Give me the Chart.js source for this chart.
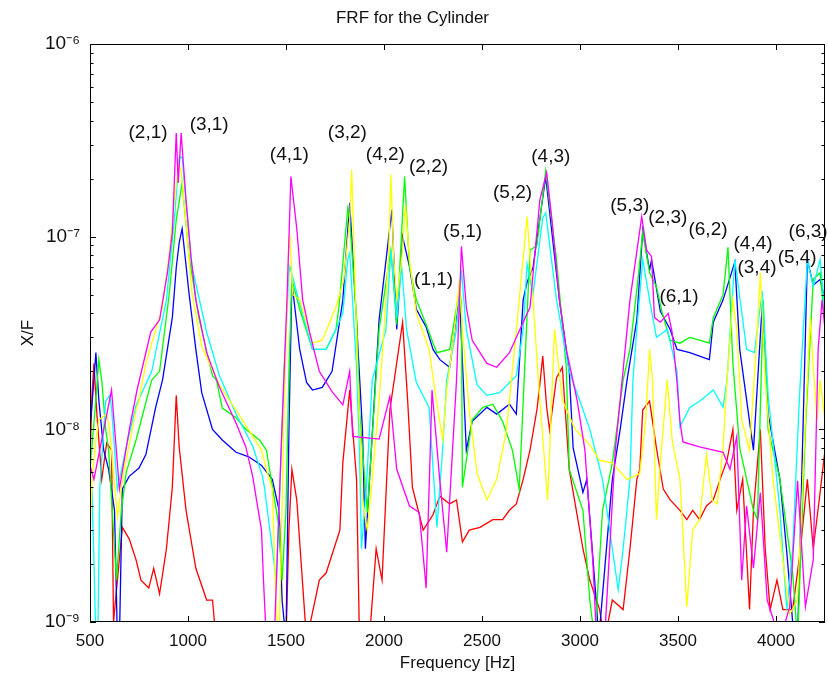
<!DOCTYPE html>
<html>
<head>
<meta charset="utf-8">
<title>FRF for the Cylinder</title>
<script src="https://cdn.jsdelivr.net/npm/chart.js@4.4.1/dist/chart.umd.min.js"></script>
<style>
  html, body { margin: 0; padding: 0; background: #fff; }
  canvas { display: block; }
</style>
</head>
<body>
<canvas id="frf" width="828" height="681"></canvas>
<script>
// tick labels
const xTicks = [500, 1000, 1500, 2000, 2500, 3000, 3500, 4000];
const yTicks = [1e-9, 1e-8, 1e-7, 1e-6];

// mode labels (m,n) and where they sit
const modeNames = ['(2,1)', '(3,1)', '(4,1)', '(3,2)', '(4,2)', '(2,2)', '(5,1)', '(1,1)', '(5,2)', '(4,3)',
                   '(5,3)', '(2,3)', '(6,2)', '(6,1)', '(4,4)', '(3,4)', '(5,4)', '(6,3)'];
const modeHz = [796, 1108, 1517, 1813, 2007, 2227, 2401, 2253, 2656, 2851,
                3254, 3448, 3653, 3505, 3883, 3903, 4108, 4164];
const modeXF = [3.45e-7, 3.8e-7, 2.65e-7, 3.45e-7, 2.65e-7, 2.3e-7, 1.06e-7, 5.96e-8, 1.69e-7, 2.59e-7,
                1.44e-7, 1.26e-7, 1.08e-7, 4.87e-8, 9.2e-8, 6.9e-8, 7.8e-8, 1.06e-7];

// measured responses [Hz, X/F]
const magenta = [[500,6.5e-9],[520,5.5e-9],[610,1.6e-8],[650,4.9e-9],[700,9.9e-9],[740,1.6e-8],[810,3.2e-8],
  [855,3.7e-8],[895,6.5e-8],[920,1.05e-7],[940,3.45e-7],[950,1.9e-7],[965,3.45e-7],[990,1.55e-7],[1015,7.9e-8],
  [1040,4.7e-8],[1095,2.5e-8],[1160,1.66e-8],[1245,1.08e-8],[1295,8.1e-9],[1330,5.7e-9],[1375,3.0e-9],
  [1385,1.65e-9],[1400,8e-10],[1440,8e-10],[1475,7.8e-9],[1505,4.7e-8],[1525,2.05e-7],[1555,1.1e-7],
  [1585,4.7e-8],[1620,3.2e-8],[1670,2.0e-8],[1735,1.57e-8],[1790,1.34e-8],[1825,2.0e-8],[1840,9.2e-9],
  [1975,8.9e-9],[2030,1.48e-8],[2065,6.2e-9],[2130,4.0e-9],[2180,3.7e-9],[2215,1.5e-9],[2245,1.6e-8],
  [2285,5.4e-9],[2320,2.3e-9],[2370,1.8e-8],[2395,8.9e-8],[2420,4.3e-8],[2450,2.9e-8],[2525,2.2e-8],
  [2575,2.1e-8],[2640,2.5e-8],[2710,3.6e-8],[2745,4.3e-8],[2795,1.55e-7],[2830,2.15e-7],[2855,1.27e-7],
  [2895,4.7e-8],[2930,2.6e-8],[2985,1.42e-8],[3025,7.8e-9],[3065,2.1e-9],[3085,8e-10],[3125,8e-10],
  [3180,7.8e-9],[3255,4.7e-8],[3315,1.27e-7],[3340,8.5e-8],[3365,7.9e-8],[3380,3.8e-8],[3410,3.6e-8],
  [3450,4.0e-8],[3470,3.2e-8],[3495,1.75e-8],[3510,1.1e-8],[3525,8.6e-9],[3610,8.1e-9],[3730,7.6e-9],
  [3765,6.2e-9],[3800,9.2e-9],[3825,1.65e-9],[3850,4.0e-9],[3885,1.9e-9],[3920,4.7e-9],[3955,1.3e-9],
  [4020,8e-10],[4070,1.2e-9],[4110,5.4e-9],[4150,1.2e-9],[4190,2.1e-9],[4215,2.6e-8],[4235,4.7e-8],[4250,3.3e-8]];

const yellow = [[500,2.7e-9],[510,5.5e-9],[530,8.8e-9],[545,1.12e-8],[585,1.2e-8],[600,9.9e-9],[640,3.5e-9],
  [665,5.5e-9],[735,1.26e-8],[750,1.42e-8],[785,2.2e-8],[870,4.3e-8],[905,8.2e-8],[940,1.9e-7],[955,2.35e-7],
  [965,2.2e-7],[990,1.18e-7],[1020,5.1e-8],[1070,2.7e-8],[1160,1.7e-8],[1245,1.26e-8],[1310,9.9e-9],
  [1375,7.8e-9],[1400,6.2e-9],[1430,4.9e-9],[1450,1.16e-9],[1465,8e-10],[1490,1.2e-8],[1515,9.6e-8],
  [1520,1.0e-7],[1535,5.0e-8],[1570,4.7e-8],[1635,2.8e-8],[1685,2.9e-8],[1755,4.3e-8],[1795,6.0e-8],
  [1825,1.22e-7],[1835,2.22e-7],[1850,7.0e-8],[1865,2.1e-8],[1875,1.12e-8],[1890,4.3e-9],[1915,3.0e-9],
  [1940,5.5e-9],[1975,1.42e-8],[2000,3.3e-8],[2025,8.5e-8],[2035,2.1e-7],[2050,7.6e-8],[2065,4.7e-8],
  [2090,7.6e-8],[2110,1.45e-7],[2130,7.6e-8],[2165,4.0e-8],[2230,2.6e-8],[2270,1.35e-8],[2300,8.8e-9],
  [2320,1.6e-8],[2360,3.3e-8],[2385,6.0e-8],[2400,3.3e-8],[2435,1.26e-8],[2475,5.9e-9],[2525,4.3e-9],
  [2575,5.5e-9],[2625,9.9e-9],[2650,1.8e-8],[2690,4.7e-8],[2730,1.27e-7],[2760,4.7e-8],[2795,1.42e-8],
  [2835,4.3e-9],[2870,3.3e-8],[2910,1.42e-8],[2975,1.0e-8],[3050,8.3e-9],[3100,6.9e-9],[3165,6.7e-9],
  [3240,5.5e-9],[3305,5.9e-9],[3335,1.12e-8],[3355,2.6e-8],[3370,1.8e-8],[3390,3.4e-9],[3415,7.8e-9],
  [3445,1.8e-8],[3470,8.8e-9],[3510,5.5e-9],[3545,1.2e-9],[3575,3.0e-9],[3610,3.4e-9],[3645,7.4e-9],
  [3675,4.3e-9],[3700,4.1e-9],[3730,8.1e-9],[3750,1.8e-8],[3780,4.7e-8],[3800,3.3e-8],[3825,1.12e-8],
  [3865,7.8e-9],[3905,3.3e-8],[3920,6.5e-8],[3945,1.8e-8],[3985,5.5e-9],[4035,2.1e-9],[4070,1.1e-9],
  [4110,1.3e-9],[4150,1.12e-8],[4175,3.8e-8],[4190,2.1e-8],[4210,1.12e-8],[4225,1.8e-8],[4250,1.12e-8]];

const cyan = [[500,3.8e-9],[510,4.9e-9],[520,2.1e-9],[530,8e-10],[540,8e-10],[550,5.0e-9],[580,1.4e-8],
  [600,1.5e-8],[610,1.3e-8],[640,4.9e-9],[685,8.1e-9],[735,1.33e-8],[815,2.0e-8],[890,4.7e-8],[930,1.22e-7],
  [955,2.55e-7],[970,2.6e-7],[990,1.5e-7],[1020,7.0e-8],[1095,3.2e-8],[1160,1.9e-8],[1245,1.2e-8],
  [1330,8.2e-9],[1380,5.7e-9],[1390,5.0e-9],[1430,2.4e-9],[1450,1.65e-9],[1465,3.8e-9],[1490,2.0e-8],
  [1515,6.5e-8],[1520,7.0e-8],[1555,5.1e-8],[1635,2.6e-8],[1705,2.6e-8],[1760,3.4e-8],[1790,4.0e-8],
  [1815,7.6e-8],[1825,8.2e-8],[1860,2.1e-8],[1875,7.8e-9],[1885,2.4e-9],[1910,5.0e-9],[1940,1.8e-8],
  [2010,3.3e-8],[2035,8.5e-8],[2065,3.8e-8],[2090,7.0e-8],[2115,3.3e-8],[2165,1.75e-8],[2230,1.3e-8],
  [2270,3.1e-9],[2300,8.1e-9],[2320,1.8e-8],[2370,3.3e-8],[2395,6.7e-8],[2420,3.3e-8],[2475,1.7e-8],
  [2525,1.5e-8],[2590,1.55e-8],[2675,1.9e-8],[2710,3.3e-8],[2730,7.2e-8],[2760,5.0e-8],[2810,1.25e-7],
  [2825,1.33e-7],[2880,4.7e-8],[2945,2.0e-8],[3000,1.4e-8],[3050,1.0e-8],[3115,5.5e-9],[3165,2.4e-9],
  [3195,1.47e-9],[3220,2.4e-9],[3255,5.5e-9],[3270,1.8e-8],[3290,3.3e-8],[3320,7.6e-8],[3355,4.7e-8],
  [3390,3.0e-8],[3445,3.3e-8],[3495,2.0e-8],[3510,1.03e-8],[3560,1.3e-8],[3610,1.4e-8],[3680,1.6e-8],
  [3730,1.3e-8],[3750,1.8e-8],[3790,7.6e-8],[3850,2.6e-8],[3890,2.5e-8],[3930,5.2e-8],[3960,1.5e-8],
  [4020,3.8e-9],[4055,1.16e-9],[4085,2.4e-9],[4120,1.5e-8],[4160,7.6e-8],[4190,5.5e-8],[4225,7.6e-8],[4250,4.0e-8]];

const green = [[500,6.2e-9],[530,1.42e-8],[545,2.3e-8],[560,1.8e-8],[580,1.0e-8],[595,7.8e-9],[635,1.65e-9],
  [660,3.8e-9],[685,6.0e-9],[735,8.8e-9],[815,1.8e-8],[855,2.0e-8],[905,5.1e-8],[940,1.22e-7],[970,1.9e-7],
  [1005,8.0e-8],[1055,3.8e-8],[1125,1.9e-8],[1145,1.8e-8],[1175,1.29e-8],[1245,1.15e-8],[1295,1.0e-8],
  [1365,8.8e-9],[1400,7.8e-9],[1465,3.1e-9],[1480,1.65e-9],[1500,3.8e-9],[1515,2.0e-8],[1530,6.0e-8],
  [1570,4.2e-8],[1635,2.6e-8],[1705,2.6e-8],[1755,3.3e-8],[1770,4.3e-8],[1815,1.4e-7],[1825,1.22e-7],
  [1860,3.8e-8],[1875,1.26e-8],[1915,3.7e-9],[1975,3.3e-8],[2035,8.5e-8],[2065,3.5e-8],[2105,2.05e-7],
  [2130,7.0e-8],[2165,4.7e-8],[2215,3.5e-8],[2250,2.8e-8],[2270,2.5e-8],[2335,2.6e-8],[2385,5.3e-8],
  [2395,4.5e-8],[2400,5.0e-9],[2450,1.12e-8],[2505,1.3e-8],[2555,1.35e-8],[2605,1.1e-8],[2655,7.8e-9],
  [2690,4.9e-9],[2745,8.5e-8],[2780,9.0e-8],[2825,2.2e-7],[2880,7.6e-8],[2930,2.1e-8],[2945,6.2e-9],
  [3015,3.8e-9],[3050,1.3e-9],[3075,8e-10],[3115,3.8e-9],[3165,6.7e-9],[3220,1.8e-8],[3255,2.6e-8],
  [3295,5.9e-8],[3320,1.05e-7],[3355,6.5e-8],[3390,5.5e-8],[3420,4.0e-8],[3460,2.9e-8],[3510,2.8e-8],
  [3560,3.0e-8],[3610,2.9e-8],[3660,2.8e-8],[3680,3.8e-8],[3730,5.0e-8],[3755,8.8e-8],[3780,2.2e-8],
  [3815,8.0e-9],[3885,3.8e-9],[3905,3.4e-9],[3935,4.7e-8],[3960,1.0e-8],[4020,5.5e-9],[4085,1.8e-9],
  [4110,8e-10],[4150,1.0e-8],[4190,6.0e-8],[4225,6.5e-8],[4250,3.5e-8]];

const blue = [[500,1.0e-8],[520,1.8e-8],[530,2.5e-8],[545,1.42e-8],[570,7.8e-9],[595,6.2e-9],[625,3.8e-9],
  [640,8e-10],[650,8e-10],[665,4.9e-9],[700,5.7e-9],[750,6.3e-9],[785,7.4e-9],[835,1.3e-8],[870,1.8e-8],
  [920,3.8e-8],[940,6.9e-8],[955,9.3e-8],[970,1.1e-7],[1005,5.1e-8],[1040,2.6e-8],[1070,1.55e-8],
  [1125,1.0e-8],[1175,8.8e-9],[1245,7.6e-9],[1310,7.2e-9],[1375,6.5e-9],[1430,5.5e-9],[1465,3.8e-9],
  [1480,1.3e-9],[1500,8e-10],[1515,1.0e-8],[1530,5.8e-8],[1570,2.6e-8],[1605,1.75e-8],[1635,1.6e-8],
  [1685,1.65e-8],[1735,2.0e-8],[1790,4.7e-8],[1825,1.5e-7],[1850,5.5e-8],[1890,1.0e-8],[1905,2.4e-9],
  [1975,3.7e-8],[2040,1.38e-7],[2065,3.3e-8],[2095,1.0e-7],[2130,7.0e-8],[2165,4.2e-8],[2215,3.4e-8],
  [2250,2.6e-8],[2285,2.3e-8],[2335,2.1e-8],[2385,5.0e-8],[2420,7.8e-9],[2450,1.1e-8],[2525,1.3e-8],
  [2575,1.2e-8],[2640,1.35e-8],[2675,1.2e-8],[2710,4.7e-8],[2730,5.8e-8],[2760,6.9e-8],[2825,2.05e-7],
  [2895,4.7e-8],[2945,2.0e-8],[2965,8.0e-9],[3015,4.7e-9],[3035,5.5e-9],[3085,1.2e-9],[3095,8e-10],
  [3165,5.5e-9],[3205,1.0e-8],[3240,1.8e-8],[3290,3.7e-8],[3320,1.08e-7],[3355,6.7e-8],[3365,7.6e-8],
  [3410,4.1e-8],[3460,3.3e-8],[3495,2.6e-8],[3560,2.5e-8],[3610,2.4e-8],[3660,2.3e-8],[3680,3.6e-8],
  [3730,4.7e-8],[3790,7.4e-8],[3815,2.6e-8],[3885,7.8e-9],[3930,4.5e-8],[3960,1.2e-8],[4020,5.5e-9],
  [4055,2.3e-9],[4085,1.0e-9],[4110,8e-10],[4130,5.0e-9],[4160,7.6e-8],[4190,5.6e-8],[4225,6.0e-8],[4250,4.7e-8]];

const red = [[500,6.9e-9],[510,1.5e-8],[520,2.2e-8],[535,1.2e-8],[560,5.5e-9],[585,8.5e-9],[610,7.8e-9],
  [620,1.0e-9],[665,3.1e-9],[700,2.7e-9],[735,2.1e-9],[760,1.65e-9],[800,1.5e-9],[825,1.9e-9],[855,1.4e-9],
  [890,2.4e-9],[920,5.0e-9],[940,1.5e-8],[955,8.1e-9],[990,3.8e-9],[1040,1.9e-9],[1095,1.3e-9],[1125,1.3e-9],
  [1135,1.0e-9],[1145,8e-10],[1500,8e-10],[1515,3.0e-9],[1530,6.2e-9],[1555,4.3e-9],[1605,8e-10],
  [1670,1.65e-9],[1705,1.8e-9],[1775,3.0e-9],[1790,6.7e-9],[1825,1.6e-8],[1860,5.5e-9],[1875,8e-10],
  [1925,8e-10],[1960,2.4e-9],[1990,1.65e-9],[2030,1.26e-8],[2095,3.6e-8],[2120,1.45e-8],[2145,5.0e-9],
  [2200,3.0e-9],[2250,3.6e-9],[2285,4.5e-9],[2335,4.1e-9],[2370,4.3e-9],[2400,2.6e-9],[2435,3.0e-9],
  [2490,3.1e-9],[2555,3.4e-9],[2605,3.4e-9],[2640,3.8e-9],[2675,4.1e-9],[2710,5.5e-9],[2745,7.8e-9],
  [2780,1.26e-8],[2795,1.7e-8],[2810,2.4e-8],[2830,1.3e-8],[2845,9.9e-9],[2880,1.85e-8],[2910,2.1e-8],
  [2945,6.2e-9],[3015,2.4e-9],[3050,1.65e-9],[3100,1.16e-9],[3125,8e-10],[3165,1.3e-9],[3220,1.16e-9],
  [3255,2.4e-9],[3290,5.5e-9],[3305,6.2e-9],[3320,1.26e-8],[3355,1.4e-8],[3390,8.0e-9],[3425,4.9e-9],
  [3460,4.3e-9],[3510,3.8e-9],[3545,3.4e-9],[3575,3.8e-9],[3610,3.4e-9],[3645,4.0e-9],[3680,4.3e-9],
  [3715,5.5e-9],[3750,6.9e-9],[3780,1.0e-8],[3800,3.8e-9],[3830,5.5e-9],[3865,1.16e-9],[3885,3.8e-9],
  [3920,1.0e-8],[3945,2.4e-9],[3970,1.16e-9],[4005,1.65e-9],[4035,1.16e-9],[4085,1.16e-9],[4125,2.4e-9],
  [4160,5.5e-9],[4190,2.4e-9],[4225,4.7e-9],[4250,7.8e-9]];

Chart.defaults.font.family = '"Liberation Sans", Arial, sans-serif';
Chart.defaults.color = '#000';

const sup = { '-': '\u207B', '0': '\u2070', '1': '\u00B9', '2': '\u00B2', '3': '\u00B3', '4': '\u2074',
              '5': '\u2075', '6': '\u2076', '7': '\u2077', '8': '\u2078', '9': '\u2079' };
function powerLabel(v) {
  const e = String(Math.round(Math.log10(v)));
  return '10' + e.split('').map(c => sup[c]).join('');
}

function series(points, color) {
  return {
    data: points.map(p => ({ x: p[0], y: p[1] })),
    borderColor: color,
    backgroundColor: color,
    borderWidth: 1.3,
    pointRadius: 0,
    tension: 0
  };
}

// box round the axes with inward ticks, like the original figure
const framePlugin = {
  id: 'frame',
  afterDatasetsDraw(chart) {
    const { ctx, chartArea: a, scales: { x, y } } = chart;
    ctx.save();
    ctx.strokeStyle = '#000';
    ctx.lineWidth = 1;
    ctx.strokeRect(a.left + 0.5, a.top + 0.5, a.right - a.left - 1, a.bottom - a.top - 1);
    ctx.beginPath();
    xTicks.forEach(v => {
      const px = Math.round(x.getPixelForValue(v)) + 0.5;
      ctx.moveTo(px, a.bottom); ctx.lineTo(px, a.bottom - 6);
      ctx.moveTo(px, a.top); ctx.lineTo(px, a.top + 6);
    });
    for (let d = -9; d <= -7; d++) {
      for (let m = 1; m <= 9; m++) {
        const py = Math.round(y.getPixelForValue(m * Math.pow(10, d))) + 0.5;
        const len = m === 1 ? 6 : 3.5;
        ctx.moveTo(a.left, py); ctx.lineTo(a.left + len, py);
        ctx.moveTo(a.right, py); ctx.lineTo(a.right - len, py);
      }
    }
    ctx.stroke();
    ctx.restore();
  }
};

const modePlugin = {
  id: 'modes',
  afterDatasetsDraw(chart) {
    const { ctx, scales: { x, y } } = chart;
    ctx.save();
    ctx.fillStyle = '#111';
    ctx.font = '19px "Liberation Sans", Arial, sans-serif';
    ctx.textAlign = 'center';
    ctx.textBaseline = 'middle';
    modeNames.forEach((name, i) => {
      ctx.fillText(name, x.getPixelForValue(modeHz[i]), y.getPixelForValue(modeXF[i]));
    });
    ctx.restore();
  }
};

const ctx = document.getElementById('frf');
const chart = new Chart(ctx, {
  type: 'line',
  data: {
    datasets: [
      series(magenta, '#ff00ff'),
      series(yellow, '#ffff00'),
      series(cyan, '#00ffff'),
      series(green, '#00ff00'),
      series(blue, '#0000ff'),
      series(red, '#ff0000')
    ]
  },
  options: {
    responsive: false,
    animation: false,
    layout: { padding: { left: 0, right: 3, top: 0, bottom: 0 } },
    plugins: {
      legend: { display: false },
      tooltip: { enabled: false },
      title: {
        display: true,
        text: 'FRF for the Cylinder',
        font: { size: 17, weight: 'normal' },
        color: '#111',
        padding: { top: 8, bottom: 15.6 }
      }
    },
    scales: {
      x: {
        type: 'linear',
        min: 500,
        max: 4250,
        grid: { display: false, drawTicks: false },
        border: { display: false },
        afterBuildTicks: s => { s.ticks = xTicks.map(v => ({ value: v })); },
        ticks: { font: { size: 17 }, color: '#111', padding: 9, maxRotation: 0, autoSkip: false,
                 callback: v => String(v) },
        title: { display: true, text: 'Frequency [Hz]', font: { size: 17 }, color: '#111', padding: { top: 0, bottom: 7 } },
        afterFit: s => { s.height = 59; }
      },
      y: {
        type: 'logarithmic',
        min: 1e-9,
        max: 1e-6,
        grid: { display: false, drawTicks: false },
        border: { display: false },
        afterBuildTicks: s => { s.ticks = yTicks.map(v => ({ value: v })); },
        ticks: { font: { size: 19 }, color: '#111', padding: 10, callback: v => powerLabel(v) },
        title: { display: true, text: 'X/F', font: { size: 17 }, color: '#111', padding: { top: 18, bottom: 0 } },
        afterFit: s => { s.width = 90; }
      }
    }
  },
  plugins: [framePlugin, modePlugin]
});
</script>
</body>
</html>
